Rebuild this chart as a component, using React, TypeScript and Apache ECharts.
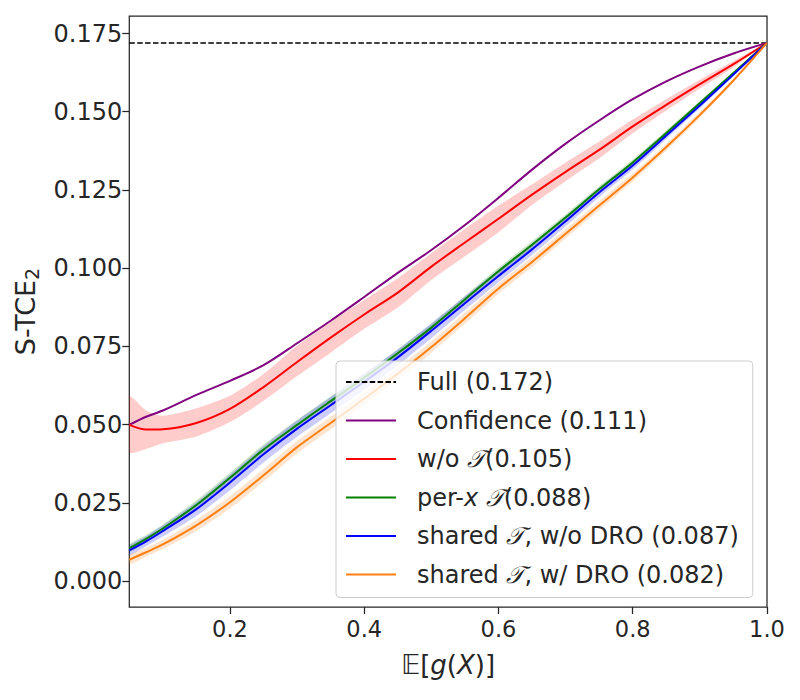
import React, { useEffect, useRef } from "react";
import * as echarts from "echarts";

// x positions (E[g(X)])
const X = [0.05, 0.075, 0.1, 0.15, 0.2, 0.25, 0.3, 0.35, 0.4, 0.45, 0.5, 0.55, 0.6, 0.65, 0.7, 0.75, 0.8, 0.85, 0.9, 0.95, 1.0];

const FULL = 0.172;

const CONF = [0.0499, 0.0525, 0.0545, 0.0595, 0.064, 0.069, 0.076, 0.0832, 0.0908, 0.0985, 0.1058, 0.1138, 0.1225, 0.1315, 0.1398, 0.1472, 0.154, 0.1597, 0.1645, 0.1686, 0.172];

const WO_T = [0.0499, 0.0484, 0.0485, 0.0505, 0.055, 0.062, 0.07, 0.0778, 0.0852, 0.0922, 0.1005, 0.1082, 0.1158, 0.1235, 0.1308, 0.1378, 0.1453, 0.1522, 0.1588, 0.1652, 0.172];
const WO_T_HI = [0.059, 0.0545, 0.0528, 0.0552, 0.0592, 0.0662, 0.0752, 0.0828, 0.0898, 0.0968, 0.1048, 0.1125, 0.12, 0.1268, 0.1338, 0.1405, 0.1475, 0.154, 0.1602, 0.1662, 0.172];
const WO_T_LO = [0.0412, 0.0422, 0.044, 0.0462, 0.0508, 0.0576, 0.0655, 0.073, 0.0806, 0.0874, 0.0962, 0.1038, 0.1115, 0.1202, 0.1278, 0.1351, 0.1431, 0.1504, 0.1574, 0.1642, 0.172];

const PER_X = [0.0105, 0.0135, 0.0168, 0.0243, 0.033, 0.042, 0.0499, 0.0575, 0.065, 0.0728, 0.081, 0.09, 0.099, 0.1075, 0.1162, 0.1252, 0.1338, 0.1432, 0.1528, 0.1624, 0.172];
const PER_X_SPREAD = [0.0012, 0.0012, 0.0013, 0.0015, 0.0016, 0.0016, 0.0016, 0.0015, 0.0014, 0.0013, 0.0012, 0.0012, 0.0012, 0.0011, 0.001, 0.001, 0.0009, 0.0008, 0.0006, 0.0004, 0];

const SHARED = [0.0098, 0.0127, 0.016, 0.023, 0.0315, 0.0405, 0.0487, 0.0562, 0.0637, 0.0715, 0.08, 0.0888, 0.0975, 0.106, 0.115, 0.1242, 0.1328, 0.1424, 0.152, 0.1619, 0.172];
const SHARED_SPREAD = [0.0015, 0.0016, 0.0018, 0.0022, 0.0025, 0.0026, 0.0026, 0.0026, 0.0026, 0.0025, 0.0024, 0.0022, 0.002, 0.0018, 0.0016, 0.0015, 0.0013, 0.0011, 0.0009, 0.0005, 0];

const DRO = [0.0068, 0.0092, 0.0117, 0.0178, 0.0252, 0.0338, 0.0428, 0.0505, 0.0583, 0.0663, 0.0748, 0.084, 0.0935, 0.102, 0.111, 0.12, 0.129, 0.1387, 0.149, 0.16, 0.172];
const DRO_SPREAD = [0.0014, 0.0014, 0.0015, 0.0018, 0.002, 0.002, 0.002, 0.002, 0.002, 0.0019, 0.0018, 0.0018, 0.0017, 0.0016, 0.0015, 0.0014, 0.0013, 0.0011, 0.0009, 0.0005, 0];

const X_TICKS = [0.2, 0.4, 0.6, 0.8, 1.0];
const Y_TICKS = [0, 0.025, 0.05, 0.075, 0.1, 0.125, 0.15, 0.175];

const NAMES = [
  "Full (0.172)",
  "Confidence (0.111)",
  "w/o 𝒯 (0.105)",
  "per-x 𝒯 (0.088)",
  "shared 𝒯, w/o DRO (0.087)",
  "shared 𝒯, w/ DRO (0.082)",
];

export default function App() {
  const ref = useRef<HTMLDivElement>(null);
  useEffect(() => {
    const chart = echarts.init(ref.current!, null, { renderer: "svg" });
    const font = "DejaVu Sans";
    const dark = "#262626";
    const pts = (ys: number[]) => X.map((x, i) => [x, ys[i]]);
    const SM = 0.3;

    const band = (key: string, lo: number[], hi: number[], color: string) => ({
      name: key + "_band",
      type: "custom",
      silent: true,
      clip: true,
      z: 1,
      data: X.map((x, i) => [x, lo[i], hi[i]]),
      encode: { x: 0, y: [1, 2] },
      renderItem: (params: any, api: any) => {
        if (params.dataIndex !== 0) return null;
        const upper = X.map((x, i) => api.coord([x, hi[i]]));
        const lower = X.map((x, i) => api.coord([x, lo[i]])).reverse();
        return {
          type: "polygon",
          shape: { points: upper.concat(lower), smooth: 0.25 },
          style: { fill: color, stroke: "none" },
        };
      },
    });
    const spreadBand = (key: string, mean: number[], spread: number[], color: string) =>
      band(key, mean.map((m, i) => m - spread[i]), mean.map((m, i) => m + spread[i]), color);

    const line = (name: string, ys: number[], color: string) => ({
      name,
      type: "line",
      data: pts(ys),
      symbol: "none",
      smooth: SM,
      lineStyle: { color, width: 2 },
      itemStyle: { color },
      z: 3,
    });

    const richLabel: Record<string, string> = {
      [NAMES[0]]: "Full (0.172)",
      [NAMES[1]]: "Confidence (0.111)",
      [NAMES[2]]: "w/o {c|𝒯}(0.105)",
      [NAMES[3]]: "per-{i|x} {c|𝒯}(0.088)",
      [NAMES[4]]: "shared {c|𝒯}, w/o DRO (0.087)",
      [NAMES[5]]: "shared {c|𝒯}, w/ DRO (0.082)",
    };

    chart.setOption({
      animation: false,
      backgroundColor: "#ffffff",
      textStyle: { fontFamily: font },
      grid: {
        left: 129.3,
        right: 33,
        top: 16,
        bottom: 93,
        show: true,
        borderColor: dark,
        borderWidth: 1.25,
        backgroundColor: "transparent",
      },
      xAxis: {
        type: "value",
        min: 0.05,
        max: 1.0,
        axisLine: { show: false, onZero: false },
        splitLine: { show: false },
        axisTick: { show: true, customValues: X_TICKS, length: 7, lineStyle: { color: dark, width: 1.25 } },
        axisLabel: {
          customValues: X_TICKS,
          formatter: (v: number) => v.toFixed(1),
          fontSize: 22.5,
          fontFamily: font,
          color: dark,
          margin: 10,
        },
        name: "{bb|𝔼}[{i|g}({i|X})]",
        nameLocation: "middle",
        nameGap: 45,
        nameTextStyle: {
          fontSize: 26,
          fontFamily: font,
          color: dark,
          rich: {
            bb: { fontSize: 26, fontFamily: font, color: dark },
            i: { fontSize: 26, fontFamily: font, fontStyle: "italic", color: dark },
          },
        },
      },
      yAxis: {
        type: "value",
        min: -0.0083,
        max: 0.1806,
        axisLine: { show: false, onZero: false },
        splitLine: { show: false },
        axisTick: { show: true, customValues: Y_TICKS, length: 7, lineStyle: { color: dark, width: 1.25 } },
        axisLabel: {
          customValues: Y_TICKS,
          formatter: (v: number) => v.toFixed(3),
          fontSize: 24,
          fontFamily: font,
          color: dark,
          margin: 7,
        },
        name: "S-TCE{s|2}",
        nameLocation: "middle",
        nameGap: 88,
        nameTextStyle: {
          fontSize: 27,
          fontFamily: font,
          color: dark,
          rich: {
            s: { fontSize: 19, fontFamily: font, color: dark, verticalAlign: "bottom", padding: [12, 0, 0, 0] },
          },
        },
      },
      legend: {
        data: NAMES,
        orient: "vertical",
        left: 336,
        top: 361,
        itemWidth: 50,
        itemHeight: 14,
        itemGap: 10.5,
        padding: [7, 14, 9, 9],
        backgroundColor: "rgba(255,255,255,0.8)",
        borderColor: "#cccccc",
        borderWidth: 1,
        borderRadius: 4,
        selectedMode: false,
        itemStyle: { opacity: 0, borderWidth: 0 },
        formatter: (n: string) => richLabel[n] ?? n,
        textStyle: {
          fontFamily: font,
          fontSize: 24,
          color: dark,
          lineHeight: 28,
          padding: [0, 0, 0, 16],
          rich: {
            c: { fontFamily: font, fontSize: 24, fontStyle: "italic", color: dark, lineHeight: 28 },
            i: { fontFamily: font, fontSize: 24, fontStyle: "italic", color: dark, lineHeight: 28 },
          },
        },
      },
      series: [
        band("wot", WO_T_LO, WO_T_HI, "rgba(255,0,0,0.2)"),
        spreadBand("perx", PER_X, PER_X_SPREAD, "rgba(0,128,0,0.2)"),
        spreadBand("shared", SHARED, SHARED_SPREAD, "rgba(0,0,255,0.2)"),
        spreadBand("dro", DRO, DRO_SPREAD, "rgba(255,127,14,0.2)"),
        {
          name: NAMES[0],
          type: "line",
          data: [
            [X[0], FULL],
            [X[X.length - 1], FULL],
          ],
          symbol: "none",
          lineStyle: { color: "#000000", width: 1.5, type: [5.5, 2.4] },
          itemStyle: { color: "#000000" },
          z: 3,
        },
        line(NAMES[1], CONF, "#800080"),
        line(NAMES[2], WO_T, "#ff0000"),
        line(NAMES[3], PER_X, "#008000"),
        line(NAMES[4], SHARED, "#0000ff"),
        line(NAMES[5], DRO, "#ff7f0e"),
      ],
    });
    return () => chart.dispose();
  }, []);
  return (
    <div
      ref={ref}
      style={{ width: 800, height: 700, position: "absolute", left: 0, top: 0, background: "#fff" }}
    />
  );
}
